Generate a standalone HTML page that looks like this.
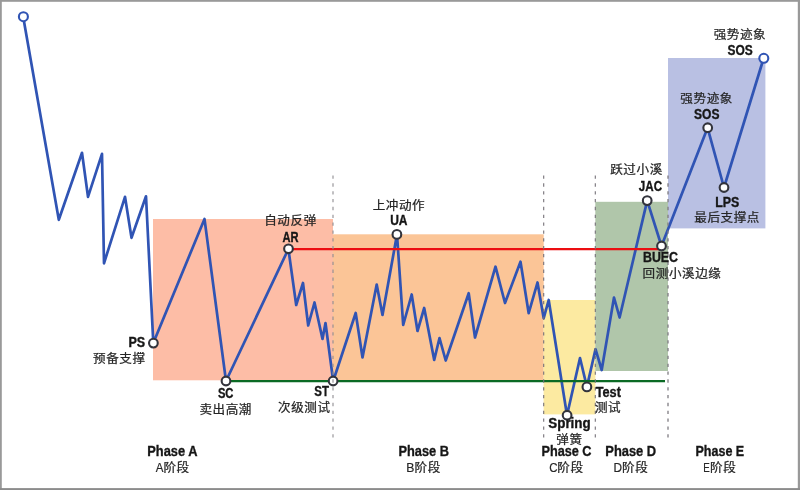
<!DOCTYPE html>
<html lang="zh-CN">
<head>
<meta charset="utf-8">
<title>Wyckoff Accumulation</title>
<style>
html,body{margin:0;padding:0;background:#fff;}
body{width:800px;height:490px;overflow:hidden;position:relative;}
svg{position:absolute;left:0;top:0;display:block;}
.b{font-family:"Liberation Sans","Noto Sans CJK SC",sans-serif;font-weight:700;font-size:13.9px;fill:#161616;stroke:#161616;stroke-width:0.35;}
.p{font-size:14.4px;}
.c{font-family:"Liberation Sans","Noto Sans CJK SC",sans-serif;font-weight:400;font-size:12.55px;letter-spacing:0.6px;fill:#262626;stroke:#262626;stroke-width:0.25;text-anchor:middle;}
.r{font-family:"Liberation Sans",sans-serif;font-weight:400;font-size:13.6px;fill:#262626;stroke:#262626;stroke-width:0.2;}
.r2{font-family:"Liberation Sans",sans-serif;font-size:14.17px;letter-spacing:0;text-anchor:start;stroke-width:0.2;}
.pt{fill:#fff;stroke:#33343c;stroke-width:2.1;}
.dl{stroke:#757178;stroke-width:1.1;stroke-dasharray:3.3 4.54;fill:none;}
</style>
</head>
<body>
<svg width="800" height="490" viewBox="0 0 800 490">
<rect x="0" y="0" width="800" height="490" fill="#fff"/>
<!-- zones -->
<rect x="153" y="219" width="180" height="161.3" fill="#fdbda6"/>
<rect x="333" y="234.3" width="210.7" height="146" fill="#fbc597"/>
<rect x="543.6" y="300" width="51.8" height="114.4" fill="#fceaa1"/>
<rect x="595.3" y="201.8" width="72.7" height="169.2" fill="#b0c6aa"/>
<rect x="668" y="58" width="97.4" height="170.4" fill="#b9c0e3"/>
<!-- price line -->
<polyline fill="none" stroke="#3054b4" stroke-width="2.7" stroke-linejoin="round" stroke-linecap="round" points="24,21.5 58.8,219.8 82,152.8 88,196.8 102,153.8 104,263.3 125,196.8 131.5,237.8 146,196.3 153.3,343
204.5,219 226,381 288.4,249 296.2,305 303,283 308.2,325.5 314.5,302.5 322.5,339 325.5,323 333.2,381
355.7,313 362.5,357.5 376.7,284.5 382.5,315 397,234.5 403.2,325 411.7,294.5 417.5,331 424.2,308 434.2,360 439.5,338 445.7,360.5
468.7,293.2 475,337.5 495.5,266.7 505,303 520.5,261.7 528.7,313.2 537.5,282.5 543.7,318.2 548.7,300 567,415.2
580,358 586.9,386.9 595.5,349.2 601.7,370 614,297.5 619.6,317.5 647.2,200.6 661.5,246 707.6,127.8 724,187.5 762.5,62"/>
<!-- support / resistance -->
<line x1="288.5" y1="249" x2="661.5" y2="249" stroke="#ec0e12" stroke-width="2.25"/>
<line x1="226" y1="381.05" x2="665" y2="381.05" stroke="#0b6a24" stroke-width="2.3"/>
<!-- points -->
<circle cx="23.4" cy="16.7" r="4.5" fill="#fff" stroke="#3054b4" stroke-width="2.1"/>
<circle cx="763.8" cy="58.3" r="4.5" fill="#fff" stroke="#3054b4" stroke-width="2.1"/>
<circle class="pt" cx="153.4" cy="343.1" r="4.35"/>
<circle class="pt" cx="226" cy="381" r="4.35"/>
<circle class="pt" cx="288.5" cy="248.8" r="4.35"/>
<circle class="pt" cx="333.1" cy="381" r="4.35"/>
<circle class="pt" cx="396.9" cy="234.4" r="4.35"/>
<circle class="pt" cx="567.1" cy="415.2" r="4.35"/>
<circle class="pt" cx="586.9" cy="386.9" r="4.35"/>
<circle class="pt" cx="647.2" cy="200.6" r="4.35"/>
<circle class="pt" cx="661.5" cy="246" r="4.35"/>
<circle class="pt" cx="707.7" cy="127.7" r="4.35"/>
<circle class="pt" cx="724" cy="187.5" r="4.35"/>
<!-- dashed separators -->
<line class="dl" x1="333" y1="175.5" x2="333" y2="437.4" style="stroke:#8f8d92"/>
<line class="dl" x1="543.7" y1="175.5" x2="543.7" y2="437.4"/>
<line class="dl" x1="595.3" y1="175.5" x2="595.3" y2="437.4"/>
<line class="dl" x1="668" y1="175.5" x2="668" y2="437.4" style="stroke:#7f7c82;stroke-width:1.3"/>
<!-- labels -->
<text class="b" x="128.51" y="347.02" textLength="16.72" lengthAdjust="spacingAndGlyphs">PS</text>
<text class="b" x="217.90" y="398.05" textLength="15.57" lengthAdjust="spacingAndGlyphs">SC</text>
<text class="b" x="282.54" y="241.55" textLength="16.07" lengthAdjust="spacingAndGlyphs">AR</text>
<text class="b" x="314.24" y="396.29" textLength="14.7" lengthAdjust="spacingAndGlyphs">ST</text>
<text class="b" x="390.19" y="225.13" textLength="17.35" lengthAdjust="spacingAndGlyphs">UA</text>
<text class="b" x="548.29" y="428.33" textLength="42.42" lengthAdjust="spacingAndGlyphs">Spring</text>
<text class="b" x="595.70" y="396.63" textLength="25.17" lengthAdjust="spacingAndGlyphs">Test</text>
<text class="b" x="638.86" y="190.76" textLength="23.17" lengthAdjust="spacingAndGlyphs">JAC</text>
<text class="b" x="642.96" y="261.72" textLength="35.08" lengthAdjust="spacingAndGlyphs">BUEC</text>
<text class="b" x="694.10" y="119.11" textLength="25.41" lengthAdjust="spacingAndGlyphs">SOS</text>
<text class="b" x="727.46" y="54.79" textLength="25.24" lengthAdjust="spacingAndGlyphs">SOS</text>
<text class="b" x="715.22" y="206.52" textLength="24.1" lengthAdjust="spacingAndGlyphs">LPS</text>
<text class="b p" x="147.30" y="456.13" textLength="50.24" lengthAdjust="spacingAndGlyphs">Phase A</text>
<text class="b p" x="398.46" y="456.13" textLength="50.55" lengthAdjust="spacingAndGlyphs">Phase B</text>
<text class="b p" x="541.47" y="456.13" textLength="50.07" lengthAdjust="spacingAndGlyphs">Phase C</text>
<text class="b p" x="605.29" y="456.13" textLength="50.91" lengthAdjust="spacingAndGlyphs">Phase D</text>
<text class="b p" x="695.46" y="456.13" textLength="48.75" lengthAdjust="spacingAndGlyphs">Phase E</text>
<text class="c" transform="translate(119.37 362.97) scale(1 0.96)">预备支撑</text>
<text class="c" transform="translate(225.70 414.02) scale(1 0.96)">卖出高潮</text>
<text class="c" transform="translate(290.50 225.02) scale(1 0.96)">自动反弹</text>
<text class="c" transform="translate(304.32 411.81) scale(1 0.96)">次级测试</text>
<text class="c" transform="translate(398.92 209.52) scale(1 0.96)">上冲动作</text>
<text class="c" transform="translate(569.41 444.04) scale(1 0.96)">弹簧</text>
<text class="c" transform="translate(608.04 412.02) scale(1 0.96)">测试</text>
<text class="c" transform="translate(636.50 174.31) scale(1 0.96)">跃过小溪</text>
<text class="c" transform="translate(682.06 277.73) scale(1 0.96)">回测小溪边缘</text>
<text class="c" transform="translate(706.66 103.02) scale(1 0.96)">强势迹象</text>
<text class="c" transform="translate(739.93 38.79) scale(1 0.96)">强势迹象</text>
<text class="c" transform="translate(727.12 222.43) scale(1 0.96)">最后支撑点</text>
<text class="c" transform="translate(176.58 471.79) scale(1 0.96)"><tspan class="r2" x="-20.95" y="-0.08" textLength="7.67" lengthAdjust="spacingAndGlyphs">A</tspan><tspan x="0" y="0">阶段</tspan></text>
<text class="c" transform="translate(427.68 471.79) scale(1 0.96)"><tspan class="r2" x="-21.37" y="-0.08" textLength="8.13" lengthAdjust="spacingAndGlyphs">B</tspan><tspan x="0" y="0">阶段</tspan></text>
<text class="c" transform="translate(570.46 471.79) scale(1 0.96)"><tspan class="r2" x="-21.25" y="-0.16" textLength="8.33" lengthAdjust="spacingAndGlyphs">C</tspan><tspan x="0" y="0">阶段</tspan></text>
<text class="c" transform="translate(635.16 471.79) scale(1 0.96)"><tspan class="r2" x="-21.61" y="-0.08" textLength="8.57" lengthAdjust="spacingAndGlyphs">D</tspan><tspan x="0" y="0">阶段</tspan></text>
<text class="c" transform="translate(723.25 471.79) scale(1 0.96)"><tspan class="r2" x="-19.93" y="-0.08" textLength="6.57" lengthAdjust="spacingAndGlyphs">E</tspan><tspan x="0" y="0">阶段</tspan></text>
<!-- frame -->
<rect x="0" y="0" width="800" height="1.8" fill="#999"/>
<rect x="0" y="0" width="1.8" height="490" fill="#999"/>
<rect x="797.8" y="0" width="2.2" height="490" fill="#999"/>
<rect x="0" y="488.1" width="800" height="1.9" fill="#8c8c8c"/>
</svg>
</body>
</html>
